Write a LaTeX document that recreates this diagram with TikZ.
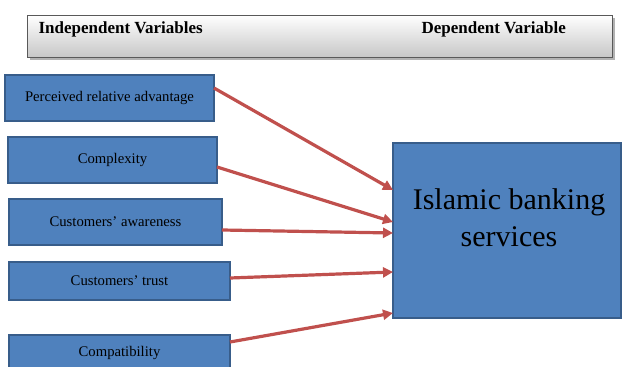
\documentclass[tikz,border=0pt]{standalone}
\usepackage{fontspec}
\setmainfont{Liberation Serif}
\usetikzlibrary{shadows,arrows.meta}
\definecolor{boxblue}{HTML}{4F81BD}
\definecolor{boxedge}{HTML}{385D8A}
\definecolor{arrred}{HTML}{C0504D}
\begin{document}
\begin{tikzpicture}[x=1pt,y=-1pt,
  ivbox/.style={draw=boxedge,line width=1.5pt,fill=boxblue},
  ivtext/.style={font=\fontsize{14.7}{16}\selectfont},
  arr/.style={draw=arrred,line width=3.2pt,-{Triangle[length=10pt,width=10pt]}},
  hdr/.style={font=\bfseries\fontsize{17}{20}\selectfont,anchor=west}]
\useasboundingbox (0,0) rectangle (622,367);
\fill[gray!60] (30,18) rectangle (615,60);
\draw[gray!70!black,line width=0.8pt,top color=white,bottom color=black!22] (27,15) rectangle (612,57);
\node[hdr] (iv) at (35,29) {Independent Variables};
\node[hdr] (dv) at (418,29) {Dependent Variable};
\draw[ivbox] (5,75) rectangle (214,121); \node[ivtext] (b1) at (109.5,98) {Perceived relative advantage};
\draw[ivbox] (8,137) rectangle (217,183); \node[ivtext] (b2) at (112.5,160) {Complexity};
\draw[ivbox] (9,199) rectangle (222,245); \node[ivtext] (b3) at (115.5,222) {Customers’ awareness};
\draw[ivbox] (9,262) rectangle (230,300); \node[ivtext] (b4) at (119.5,281) {Customers’ trust};
\draw[ivbox] (9,335) rectangle (230,375); \node[ivtext] (b5) at (119.5,353) {Compatibility};
\draw[draw=boxedge,line width=1.5pt,fill=boxblue] (393,143) rectangle (621,318);
\node[align=center,font=\fontsize{30}{37}\selectfont] (dvb) at (509,218) {Islamic banking\\services};
\coordinate (s1) at (214,88); \coordinate (t1) at (393,190);
\coordinate (s2) at (217,167); \coordinate (t2) at (393,222);
\coordinate (s3) at (222,230); \coordinate (t3) at (393,233);
\coordinate (s4) at (230,278); \coordinate (t4) at (393,272);
\coordinate (s5) at (230,342); \coordinate (t5) at (393,313);
\foreach \i in {1,...,5} {\draw[arr] (s\i) -- (t\i);}
\end{tikzpicture}
\end{document}
